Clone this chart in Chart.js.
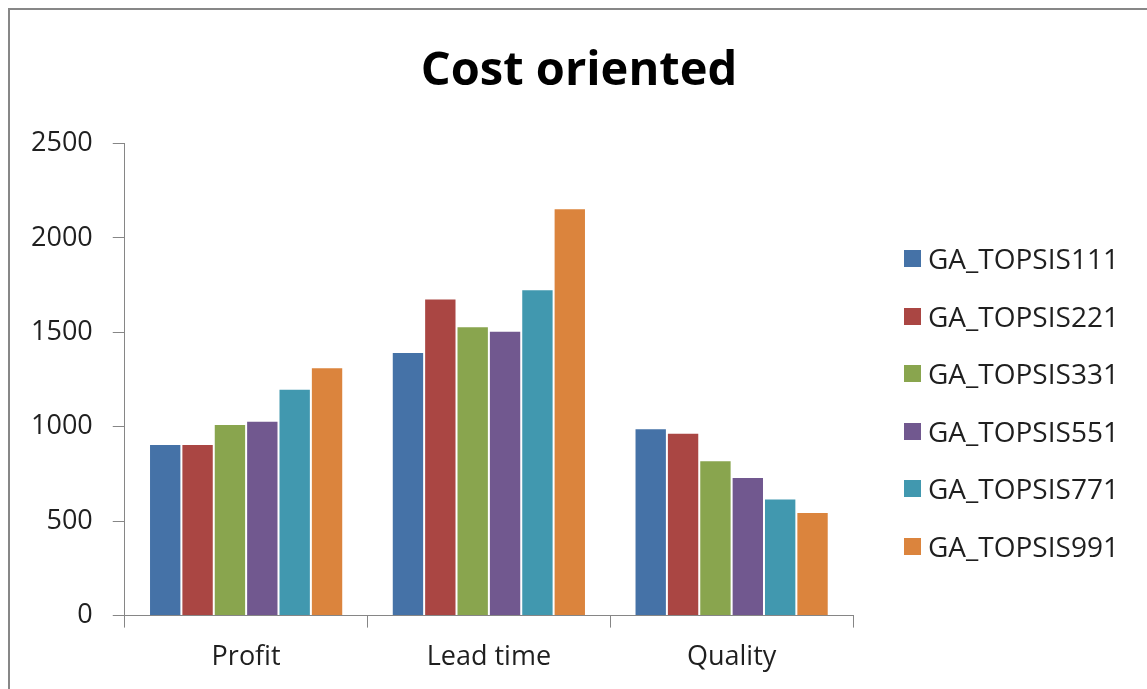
<!DOCTYPE html>
<html>
<head>
<meta charset="utf-8">
<title>Cost oriented</title>
<script src="https://cdn.jsdelivr.net/npm/chart.js@4.4.0/dist/chart.umd.min.js"></script>
<style>
  body { margin: 0; background: #fff; overflow: hidden; }
  #frame { position: absolute; left: 8px; top: 8px; width: 1300px; height: 900px; border: 2px solid #878787; }
  #wrap { position: absolute; left: 0; top: 0; width: 1147px; height: 689px; }
  #legend { position: absolute; left: 904px; top: 230px; font-family: "Open Sans", sans-serif; font-size: 28px; color: #1f1f1f; }
  .item { position: absolute; left: 0; height: 30px; white-space: nowrap; }
  .box { position: absolute; left: 0; top: 6px; width: 17px; height: 17px; }
  .lbl { position: absolute; left: 24px; top: -5px; line-height: 38px; }
</style>
</head>
<body>
<div id="frame"></div>
<div id="wrap"><canvas id="mycanvas"></canvas></div>
<div id="legend"></div>
<script>
// categories and series
var categories = ['Profit', 'Lead time', 'Quality'];
var seriesNames = ['GA_TOPSIS111', 'GA_TOPSIS221', 'GA_TOPSIS331', 'GA_TOPSIS551', 'GA_TOPSIS771', 'GA_TOPSIS991'];
var ga111 = [909, 1395, 992];
var ga221 = [909, 1679, 968];
var ga331 = [1015, 1532, 823];
var ga551 = [1031, 1508, 734];
var ga771 = [1201, 1728, 620];
var ga991 = [1315, 2156, 549];
var yTicks = [0, 500, 1000, 1500, 2000, 2500];

var colors = ['#4572A7', '#AA4643', '#89A54E', '#71588F', '#4198AF', '#DB843D'];
var values = [ga111, ga221, ga331, ga551, ga771, ga991];

var datasets = [];
for (var i in seriesNames) {
    datasets.push({
        label: seriesNames[i],
        data: values[i],
        backgroundColor: colors[i],
        borderColor: 'rgba(255,255,255,0.3)',
        borderWidth: 1,
        categoryPercentage: 0.8,
        barPercentage: 1.0
    });
}

// legend on the right, built as html
var legend = document.getElementById('legend');
for (var i in seriesNames) {
    var item = legend.appendChild(document.createElement('div'));
    item.className = 'item';
    item.style.top = (i * 57.6 + 14) + 'px';
    item.innerHTML = '<div class="box" style="background:' + colors[i] + '"></div><div class="lbl">' + seriesNames[i] + '</div>';
}

Chart.defaults.font.family = '"Open Sans", sans-serif';
Chart.defaults.color = '#1f1f1f';

var ctx = document.getElementById('mycanvas');
var barGraph = new Chart(ctx, {
    type: 'bar',
    data: { labels: categories, datasets: datasets },
    options: {
        responsive: true,
        maintainAspectRatio: false,
        animation: false,
        layout: { padding: { left: 11, right: 0, top: 0, bottom: 1 } },
        plugins: {
            title: {
                display: true,
                text: 'Cost oriented',
                font: { size: 47, weight: 'bold' },
                color: '#000',
                padding: { top: 43, bottom: 44 }
            },
            legend: { display: false },
            tooltip: { enabled: false }
        },
        scales: {
            x: {
                grid: { drawOnChartArea: false, drawTicks: true, tickLength: 12, color: '#868686', offset: true },
                border: { color: '#868686', width: 1 },
                ticks: { font: { size: 27 }, padding: 14, color: '#1f1f1f' }
            },
            y: {
                min: 0,
                max: 2500,
                afterBuildTicks: function (axis) {
                    axis.ticks = yTicks.map(function (v) { return { value: v }; });
                },
                grid: { drawOnChartArea: false, drawTicks: true, tickLength: 12, color: '#868686' },
                border: { color: '#868686', width: 1 },
                ticks: {
                    font: { size: 27 },
                    padding: 20,
                    color: '#1f1f1f',
                    callback: function (v) { return String(v); }
                }
            },
            // empty axis on the right that keeps room for the legend
            space: {
                position: 'right',
                display: true,
                grid: { display: false },
                border: { display: false },
                ticks: { display: false },
                afterFit: function (axis) { axis.width = 294; }
            }
        }
    }
});
</script>
</body>
</html>
